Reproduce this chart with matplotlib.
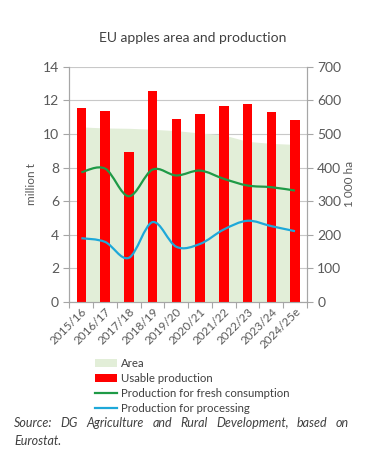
import numpy as np
import matplotlib.pyplot as plt
from matplotlib.path import Path
from matplotlib.patches import PathPatch, Patch
from matplotlib.lines import Line2D

# data
seasons = ["2015/16", "2016/17", "2017/18", "2018/19", "2019/20",
           "2020/21", "2021/22", "2022/23", "2023/24", "2024/25e"]
area_kha = [521, 518, 517, 514, 510, 503, 497, 478, 472, 469]
usable_mt = [11.55, 11.38, 8.95, 12.55, 10.88, 11.22, 11.65, 11.78, 11.32, 10.85]
fresh_mt = [7.72, 7.94, 6.29, 7.88, 7.53, 7.82, 7.33, 6.93, 6.83, 6.63]
processing_mt = [3.79, 3.57, 2.62, 4.75, 3.28, 3.45, 4.31, 4.83, 4.51, 4.21]

GREY = "#595959"
RED = "#ff0000"
AREA = "#e2eed8"
GREEN = "#1e9a46"
BLUE = "#1ea8d9"

plt.rcParams["font.family"] = ["Lato", "DejaVu Sans"]


def smooth_path(x, y):
    # Bezier path through the points (like a spreadsheet "smoothed line")
    pts = np.column_stack([x, y]).astype(float)
    n = len(pts)
    verts = [pts[0]]
    codes = [Path.MOVETO]
    for i in range(n - 1):
        p0 = pts[i - 1] if i > 0 else pts[i]
        p1, p2 = pts[i], pts[i + 1]
        p3 = pts[i + 2] if i + 2 < n else pts[i + 1]
        verts += [p1 + (p2 - p0) / 6, p2 - (p3 - p1) / 6, p2]
        codes += [Path.CURVE4] * 3
    return Path(verts, codes)


fig = plt.figure(figsize=(3.86, 4.58), dpi=100)
ax = fig.add_axes([0.180, 0.341, 0.615, 0.513])
ax2 = ax.twinx()
ax.set_zorder(2)
ax.patch.set_visible(False)
ax2.set_zorder(1)

x = np.arange(len(seasons))

# area on right axis
xa = np.concatenate([[x[0] - 0.2], x, [x[-1] + 0.12]])
ya = np.concatenate([[area_kha[0]], area_kha, [area_kha[-1]]])
ax2.fill_between(xa, 0, ya, color=AREA, lw=0, zorder=1)
ax2.set_ylim(0, 700)
ax2.set_yticks(range(0, 701, 100))
ax2.yaxis.grid(True, color="#c8c8c8", lw=0.8, zorder=0)
ax2.set_axisbelow(True)

# bars and lines on left axis
ax.bar(x, usable_mt, width=0.4, color=RED, zorder=2)
ax.add_patch(PathPatch(smooth_path(x, fresh_mt), fill=False, edgecolor=GREEN, lw=1.6, zorder=3))
ax.add_patch(PathPatch(smooth_path(x, processing_mt), fill=False, edgecolor=BLUE, lw=1.6, zorder=3))
ax.set_ylim(0, 14)
ax.set_yticks(range(0, 15, 2))
ax.set_xlim(-0.5, len(seasons) - 0.5)

ax.set_xticks(x)
ax.set_xticklabels(seasons, rotation=45, ha="right", rotation_mode="anchor")
ax.set_xticks(np.arange(-0.5, len(seasons), 1), minor=True)
ax.tick_params(axis="x", which="major", length=0, pad=3)
ax.tick_params(axis="x", which="minor", length=4, color="#a6a6a6", width=0.8)

for a in (ax, ax2):
    for s in a.spines.values():
        s.set_color("#a6a6a6")
        s.set_linewidth(0.8)
    a.spines["top"].set_visible(False)
    a.tick_params(axis="y", length=4, color="#a6a6a6", width=0.8, labelcolor=GREY, labelsize=10)
ax.tick_params(axis="x", labelcolor=GREY, labelsize=8.5)

ax.set_ylabel("million t", color=GREY, fontsize=8.5)
ax2.set_ylabel("1 000 ha", color=GREY, fontsize=8.5, labelpad=2)
ax.yaxis.set_label_coords(-0.135, 0.5)

fig.text(0.5, 0.918, "EU apples area and production", ha="center", va="center",
         color="#404040", fontsize=10)

handles = [
    Patch(facecolor=AREA, edgecolor="none"),
    Patch(facecolor=RED, edgecolor="none"),
    Line2D([], [], color=GREEN, lw=1.6),
    Line2D([], [], color=BLUE, lw=1.6),
]
labels = ["Area", "Usable production", "Production for fresh consumption",
          "Production for processing"]
fig.legend(handles, labels, loc="upper left", bbox_to_anchor=(0.246, 0.218),
           frameon=False, fontsize=8.2, handlelength=1.95, handleheight=0.75,
           handletextpad=0.3, labelspacing=0.36, borderaxespad=0, borderpad=0,
           labelcolor="#404040")

# justified source note (first line stretched between 14 px and 349 px)
words = ["Source:", "DG", "Agriculture", "and", "Rural", "Development,", "based", "on"]
texts = [fig.text(0, 1 - 423 / 458, w, ha="left", va="center", style="italic",
                  color="#404040", fontsize=9) for w in words]
fig.canvas.draw()
renderer = fig.canvas.get_renderer()
widths = [t.get_window_extent(renderer).width for t in texts]
left, right = 14, 349
gap = (right - left - sum(widths)) / (len(words) - 1)
pos = left
for t, w in zip(texts, widths):
    t.set_x(pos / 386)
    pos += w + gap
fig.text(14 / 386, 1 - 441 / 458, "Eurostat.", ha="left", va="center", style="italic",
         color="#404040", fontsize=9)

fig.savefig("out.png", dpi=100)
